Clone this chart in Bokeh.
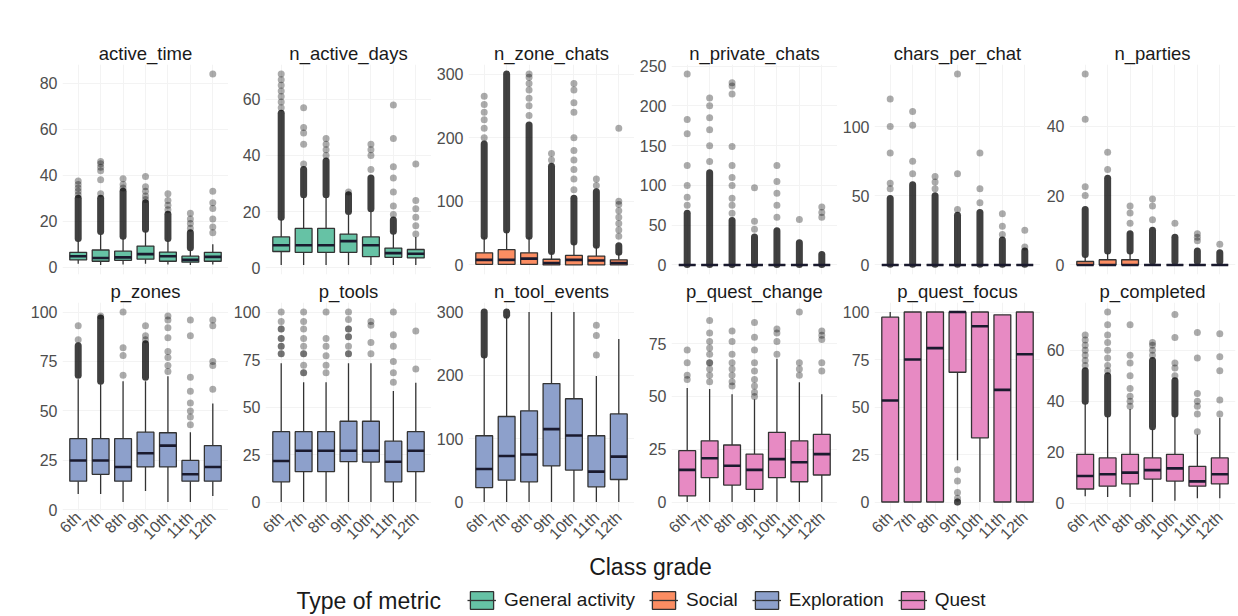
import math
from bokeh.plotting import figure
from bokeh.models import FactorRange, Range1d, FixedTicker, ColumnDataSource, Legend, LegendItem, Label
from bokeh.layouts import row, column
from bokeh.transform import dodge
from bokeh.embed import file_html
from bokeh.resources import INLINE

FONT = "Liberation Sans"

grades = ["6th", "7th", "8th", "9th", "10th", "11th", "12th"]
metrics_row1 = ["active_time", "n_active_days", "n_zone_chats", "n_private_chats", "chars_per_chat", "n_parties"]
metrics_row2 = ["p_zones", "p_tools", "n_tool_events", "p_quest_change", "p_quest_focus", "p_completed"]
metric_types = ["General activity", "Social", "Exploration", "Quest"]
type_colors = ["#66C2A5", "#FC8D62", "#8DA0CB", "#E78AC3"]
metric_type = {
    "active_time": "General activity", "n_active_days": "General activity",
    "n_zone_chats": "Social", "n_private_chats": "Social", "chars_per_chat": "Social", "n_parties": "Social",
    "p_zones": "Exploration", "p_tools": "Exploration", "n_tool_events": "Exploration",
    "p_quest_change": "Quest", "p_quest_focus": "Quest", "p_completed": "Quest",
}

y_ticks = {
    "active_time": [0, 20, 40, 60, 80], "n_active_days": [0, 20, 40, 60],
    "n_zone_chats": [0, 100, 200, 300], "n_private_chats": [0, 50, 100, 150, 200, 250],
    "chars_per_chat": [0, 50, 100], "n_parties": [0, 20, 40],
    "p_zones": [0, 25, 50, 75, 100], "p_tools": [0, 25, 50, 75, 100],
    "n_tool_events": [0, 100, 200, 300], "p_quest_change": [0, 25, 50, 75],
    "p_quest_focus": [0, 25, 50, 75, 100], "p_completed": [0, 20, 40, 60],
}

lower_whisker = {
    "active_time": [1.5, 1, 1.2, 1.5, 1.2, 1, 1.2],
    "n_active_days": [1, 1, 1, 1, 1, 1, 1],
    "n_zone_chats": [0, 0, 0, 0, 0, 0, 0],
    "n_private_chats": [0, 0, 0, 0, 0, 0, 0],
    "chars_per_chat": [0, 0, 0, 0, 0, 0, 0],
    "n_parties": [0, 0, 0, 0, 0, 0, 0],
    "p_zones": [8, 8, 4, 9.5, 4, 4, 7],
    "p_tools": [0, 0, 0, 0, 0, 0, 0],
    "n_tool_events": [0, 0, 0, 0, 0, 0, 0],
    "p_quest_change": [0, 0, 0, 0, 0, 0, 0],
    "p_quest_focus": [0, 0, 0, 22, 0, 0, 0],
    "p_completed": [2.8, 2.5, 2.5, 0.5, 1, 2, 2],
}
q1 = {
    "active_time": [3.2, 2.6, 3.0, 3.5, 2.6, 2.2, 2.6],
    "n_active_days": [5.8, 5.5, 5.5, 5.5, 4, 3.7, 3.5],
    "n_zone_chats": [1, 1, 1, 0, 0, 0, 0],
    "n_private_chats": [0, 0, 0, 0, 0, 0, 0],
    "chars_per_chat": [0, 0, 0, 0, 0, 0, 0],
    "n_parties": [0, 0, 0, 0, 0, 0, 0],
    "p_zones": [14.5, 18, 14.5, 21.7, 21.7, 14.5, 14.5],
    "p_tools": [10.6, 16, 16, 21.2, 21, 10.6, 16],
    "n_tool_events": [22.8, 34.5, 31.8, 57, 50.4, 24, 35.5],
    "p_quest_change": [2.9, 11.5, 8, 6, 11.5, 9.6, 12.8],
    "p_quest_focus": [0, 0, 0, 68.3, 33.8, 0, 0],
    "p_completed": [5.6, 6.7, 7.6, 9.5, 8.7, 6.7, 7.6],
}
median = {
    "active_time": [4.8, 4.0, 4.3, 5.7, 4.8, 3.2, 4.5],
    "n_active_days": [8, 8, 8, 9.5, 8, 5.2, 5],
    "n_zone_chats": [8, 8, 10, 3, 8, 7, 3],
    "n_private_chats": [0, 0, 0, 0, 0, 0, 0],
    "chars_per_chat": [0, 0, 0, 0, 0, 0, 0],
    "n_parties": [0, 0, 0, 0, 0, 0, 0],
    "p_zones": [25, 25, 21.7, 28.6, 32.5, 18, 21.7],
    "p_tools": [21.6, 27, 27, 27, 27, 21.2, 27],
    "n_tool_events": [52, 72.7, 75, 115, 105, 48, 71.7],
    "p_quest_change": [15.2, 20.7, 17.2, 15.2, 20.3, 18.8, 22.7],
    "p_quest_focus": [53.4, 75, 81, 100, 92.5, 59, 77.8],
    "p_completed": [10.7, 11.4, 12, 13, 13.7, 8.6, 11.4],
}
q3 = {
    "active_time": [6.5, 7.5, 7.0, 9.2, 6.6, 4.8, 6.5],
    "n_active_days": [11, 14, 14, 12, 11, 7, 6.5],
    "n_zone_chats": [19, 24, 19, 9, 15, 14, 8],
    "n_private_chats": [0, 0, 0, 0, 0, 0, 0],
    "chars_per_chat": [0, 0, 0, 0, 0, 0, 0],
    "n_parties": [1, 1.5, 1.5, 0, 0, 0, 0],
    "p_zones": [36, 36, 36, 39.3, 39, 25, 32.5],
    "p_tools": [37, 37, 37, 42.5, 42.5, 32, 37],
    "n_tool_events": [104.6, 135, 144, 187, 163, 104.6, 139],
    "p_quest_change": [24.3, 29, 27, 22.7, 33, 29, 32],
    "p_quest_focus": [97.3, 100, 100, 100, 100, 98.5, 100],
    "p_completed": [19.2, 17.8, 19.2, 17.8, 19.2, 14.5, 17.8],
}
upper_whisker = {
    "active_time": [11.5, 14.5, 12.5, 15.5, 11.5, 7.5, 10],
    "n_active_days": [17.3, 25, 25, 19, 20, 12, 11],
    "n_zone_chats": [44, 54, 44, 20, 35, 30, 19],
    "n_private_chats": [0, 0, 0, 0, 0, 0, 0],
    "chars_per_chat": [0, 0, 0, 0, 0, 0, 0],
    "n_parties": [2.5, 3.5, 3.5, 0, 0, 0, 0],
    "p_zones": [66, 63.5, 65, 65, 67.5, 39.3, 53.8],
    "p_tools": [73, 63, 63, 73, 73, 58.4, 62.8],
    "n_tool_events": [231, 294, 300, 300, 300, 199, 257.5],
    "p_quest_change": [54, 53.5, 51, 48.7, 67.8, 56.7, 51],
    "p_quest_focus": [100, 100, 100, 100, 100, 98.5, 100],
    "p_completed": [39, 34, 37, 29, 34, 27, 33.5],
}
# runs of heavily overlapping outliers (lowest and highest value of each run)
dense_lo = {
    "active_time": [12.5, 15.5, 13.5, 16.5, 12.5, 8.5, None],
    "n_active_days": [18, 26, 26, 20, 21, 13, None],
    "n_zone_chats": [45, 55, 45, 21, 36, 31, 20],
    "n_private_chats": [0.5, 0.5, 0.5, 0.5, 0.5, 0.5, 0.5],
    "chars_per_chat": [0.5, 0.5, 0.5, 0.5, 0.5, 0.5, 0.5],
    "n_parties": [3, 4, 4, 1, 1, 1, 1],
    "p_zones": [68, 65, None, 67, None, None, None],
    "p_tools": [None, None, None, None, None, None, None],
    "n_tool_events": [232, 295, None, None, None, None, None],
    "p_quest_change": [None, None, None, None, None, None, None],
    "p_quest_focus": [None, None, None, None, None, None, None],
    "p_completed": [40, 35, None, 30, 35, None, None],
}
dense_hi = {
    "active_time": [30, 30, 33, 28, 23, 15, None],
    "n_active_days": [55, 35, 38, 26, 32, 17, None],
    "n_zone_chats": [190, 300, 220, 155, 105, 115, 30],
    "n_private_chats": [65, 116, 56, 35, 43, 28, 13],
    "chars_per_chat": [48, 58, 50, 36, 38, 18, 10],
    "n_parties": [16, 25, 9, 10, 8, 4, 3.5],
    "p_zones": [83, 97, None, 84, None, None, None],
    "p_tools": [None, None, None, None, None, None, None],
    "n_tool_events": [300, 300, None, None, None, None, None],
    "p_quest_change": [None, None, None, None, None, None, None],
    "p_quest_focus": [None, None, None, None, None, None, None],
    "p_completed": [52, 50, None, 56, 48, None, None],
}
outliers = {
    "active_time": [[31.5, 33, 34.5, 36, 37.5], [32, 38, 42, 43.5, 45, 46], [34.5, 36, 38.5],
                    [29.5, 31, 33, 35, 39.5], [25, 27, 29, 32], [17, 19, 21, 23.5],
                    [15, 17.5, 21, 25.5, 28, 33, 84]],
    "n_active_days": [[57, 59, 61, 63, 65, 67, 69], [37, 44, 48, 50, 57], [40, 42, 44, 46], [27],
                      [35, 40, 42, 44], [19, 22, 27, 32, 36, 46, 58], [12, 15, 18, 21, 24, 37]],
    "n_zone_chats": [[200, 215, 228, 240, 252, 265], [], [235, 250, 262, 275, 285, 295, 300], [165, 175],
                     [118, 135, 150, 165, 180, 200, 240, 255, 275, 285], [125, 135],
                     [45, 55, 65, 75, 85, 95, 100, 215]],
    "n_private_chats": [[75, 85, 100, 125, 165, 183, 240], [130, 150, 170, 185, 200, 210],
                        [65, 75, 84, 100, 110, 125, 149, 215, 225, 229], [45, 55, 97],
                        [60, 75, 90, 105, 125], [57], [60, 66, 73]],
    "chars_per_chat": [[55, 59, 81, 100, 120], [66, 75, 101, 111], [55, 60, 64], [40, 66, 138],
                       [45, 55, 81], [22, 28, 37], [13, 25]],
    "n_parties": [[20, 22.5, 42, 55], [27.5, 32.5], [12, 15, 17], [13, 17, 19], [12], [7, 8, 9], [6]],
    "p_zones": [[86, 93], [98], [68, 78, 82, 100], [86, 88, 93], [70, 73, 77, 80, 87, 92, 96, 98],
                [43, 47, 50, 54, 60, 67, 88, 96], [61, 73, 75, 93, 96]],
    "p_tools": [[78, 78, 82, 82, 86, 86, 91, 91, 95, 100], [68, 68, 72, 78, 78, 82, 86, 91, 95, 100],
                [68, 72, 77, 82, 86, 100], [78, 78, 82, 87, 87, 91, 91, 96, 100],
                [78, 84, 93, 95], [63, 68, 74, 82, 88, 100], [70, 90]],
    "n_tool_events": [[], [], [], [], [], [232, 263, 279], []],
    "p_quest_change": [[58, 60, 66, 72], [57, 60, 63, 66, 66, 70, 73, 76, 80, 86],
                       [55, 57, 60, 63, 66, 70, 76, 81], [50, 52, 55, 58, 62, 66, 72, 78, 85],
                       [70, 76, 80, 82], [60, 63, 66, 90], [62, 66, 77, 79, 81]],
    "p_quest_focus": [[], [], [], [17, 11, 5, 2, 0, 0, 0], [], [], []],
    "p_completed": [[54, 56, 58, 60, 62, 64, 66], [52, 54, 57, 60, 63, 66, 70, 75],
                    [38, 40, 42, 45, 50, 55, 58, 70], [58, 60, 62, 63], [50, 53, 55, 65, 74],
                    [28, 35, 38, 40, 43, 57, 67], [35, 40.5, 52, 57.5, 66.5]],
}

FRAME_W = 166
LEFT_BORDER = [62, 37, 37, 37, 37, 29]
RIGHT_BORDER = [0, 0, 0, 0, 0, 2]


def panel(metric, r, c):
    color = type_colors[metric_types.index(metric_type[metric])]
    lw, a, m, b, uw = lower_whisker[metric], q1[metric], median[metric], q3[metric], upper_whisker[metric]
    outs = outliers[metric]
    dlo, dhi = dense_lo[metric], dense_hi[metric]
    allv = lw + a + m + b + uw + [v for o in outs for v in o] + [v for v in dlo + dhi if v is not None]
    lo, hi = min(allv), max(allv)
    pad = 0.05 * (hi - lo)

    p = figure(x_range=FactorRange(*grades, range_padding=0.2, range_padding_units="absolute"),
               y_range=Range1d(lo - pad, hi + pad),
               frame_width=FRAME_W, frame_height=210 if r == 0 else 209,
               min_border_left=LEFT_BORDER[c], min_border_right=RIGHT_BORDER[c],
               min_border_top=64 if r == 0 else 26, min_border_bottom=2 if r == 0 else 40,
               toolbar_location=None, output_backend="svg", title=metric)
    p.title.align = "center"
    p.title.text_font = FONT
    p.title.text_font_size = "18.5px"
    p.title.text_font_style = "normal"
    p.title.text_color = "#1A1A1A"
    p.title.standoff = 1
    p.outline_line_color = None
    p.background_fill_color = "white"
    p.border_fill_color = "white"
    p.xgrid.grid_line_color = "#F3F3F3"
    p.ygrid.grid_line_color = "#F3F3F3"

    p.yaxis.ticker = FixedTicker(ticks=y_ticks[metric])
    for ax in (p.xaxis[0], p.yaxis[0]):
        ax.axis_line_color = None
        ax.major_tick_line_color = None
        ax.minor_tick_line_color = None
        ax.major_tick_out = 0
        ax.major_tick_in = 0
        ax.minor_tick_out = 0
        ax.minor_tick_in = 0
        ax.major_label_text_font = FONT
        ax.major_label_text_font_size = "16px"
        ax.major_label_text_color = "#4D4D4D"
    p.yaxis.major_label_standoff = 5
    if r == 0:
        p.xaxis.visible = False
    else:
        p.xaxis.major_label_orientation = math.pi / 4
        p.xaxis.major_label_standoff = 3

    # dense outlier runs
    dx = [g for g, l in zip(grades, dlo) if l is not None]
    dl = [l for l in dlo if l is not None]
    dh = [h for h in dhi if h is not None]
    if dx:
        p.segment(x0=dx, x1=dx, y0=dl, y1=dh, line_width=7, line_cap="round",
                  line_color="black", line_alpha=0.75)
    # individual outliers
    ox = [g for g, o in zip(grades, outs) for _ in o]
    oy = [v for o in outs for v in o]
    if ox:
        p.scatter(x=ox, y=oy, size=7, marker="circle", fill_color="black", fill_alpha=0.33, line_color=None)

    src = ColumnDataSource(dict(grade=grades, lw=lw, q1=a, med=m, q3=b, uw=uw))
    p.segment(x0="grade", x1="grade", y0="q3", y1="uw", source=src, line_color="#333333", line_width=1.3)
    p.segment(x0="grade", x1="grade", y0="lw", y1="q1", source=src, line_color="#333333", line_width=1.3)
    p.vbar(x="grade", width=0.75, bottom="q1", top="q3", source=src, fill_color=color,
           line_color="#333333", line_width=1.3)
    p.segment(x0=dodge("grade", -0.375, range=p.x_range), x1=dodge("grade", 0.375, range=p.x_range),
              y0="med", y1="med", source=src, line_color="#1A1A2E", line_width=2.6)
    return p


row1 = [panel(mt, 0, i) for i, mt in enumerate(metrics_row1)]
row2 = [panel(mt, 1, i) for i, mt in enumerate(metrics_row2)]

FOOT_W, FOOT_H = 1237, 65
foot = figure(width=FOOT_W, height=FOOT_H, x_range=Range1d(0, FOOT_W), y_range=Range1d(0, FOOT_H),
              min_border=0, toolbar_location=None, output_backend="svg")
foot.axis.visible = False
foot.grid.visible = False
foot.outline_line_color = None

foot.add_layout(Label(x=650, y=50, text="Class grade", text_font=FONT, text_font_size="23px",
                      text_align="center", text_baseline="middle", text_color="#1A1A1A"))
foot.add_layout(Label(x=296, y=16, text="Type of metric", text_font=FONT, text_font_size="23px",
                      text_align="left", text_baseline="middle", text_color="#1A1A1A"))

# legend keys: renderers holding a single NaN row, so that only their legend swatch is drawn
items = []
for name, col in zip(metric_types, type_colors):
    rb = foot.vbar(x=[math.nan], top=[math.nan], bottom=[math.nan], width=1, fill_color=col,
                   line_color="#333333", line_width=1.3)
    rm = foot.segment(x0=[math.nan], x1=[math.nan], y0=[math.nan], y1=[math.nan],
                      line_color="#333333", line_width=1.3)
    items.append(LegendItem(label=name, renderers=[rb, rm]))
legend = Legend(items=items, orientation="horizontal", location=(467, 5),
                padding=0, margin=0, spacing=14, label_standoff=8,
                glyph_width=29, glyph_height=22,
                label_text_font=FONT, label_text_font_size="19px", label_text_color="#1A1A1A",
                border_line_color=None, background_fill_alpha=0)
foot.add_layout(legend)

layout = column(row(*row1), row(*row2), foot)
open("out.html", "w").write(file_html(layout, INLINE))
